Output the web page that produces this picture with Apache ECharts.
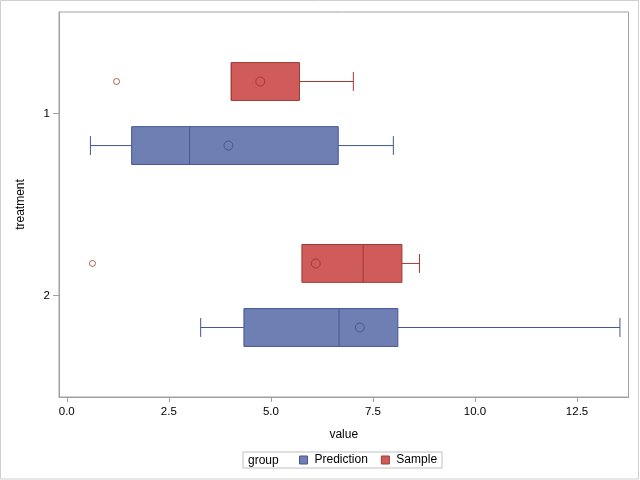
<!DOCTYPE html>
<html>
<head>
<meta charset="utf-8">
<script src="https://cdn.jsdelivr.net/npm/echarts@6/dist/echarts.min.js"></script>
<style>html,body{margin:0;padding:0;background:#fff;}#c{width:640px;height:480px;}</style>
</head>
<body>
<div id="c"></div>
<script>
// ---- data ----
var categories = [1, 2];
var xTickValues = [0, 2.5, 5, 7.5, 10, 12.5];
// [category, whiskerLow, q1, median, q3, whiskerHigh, mean]
var predictionBoxes = [
  [1, 0.58, 1.59, 3.01, 6.65, 8.00, 3.96],
  [2, 3.28, 4.34, 6.67, 8.11, 13.55, 7.18]
];
var sampleBoxes = [
  [1, 4.03, 4.03, 4.03, 5.70, 7.02, 4.74],
  [2, 5.76, 5.76, 7.26, 8.21, 8.64, 6.10]
];
// [category, value]
var sampleOutliers = [
  [1, 1.22],
  [2, 0.63]
];
var predictionOutliers = [];

// ---- styles ----
var BLUE = '#6F7EB3', BLUE_D = '#445694';
var RED = '#D05B5B', RED_D = '#A23A2E';
var FONT = 'Liberation Sans, Arial, sans-serif';
var PRED_OFF = 0.176, SAMP_OFF = -0.176, HALF = 0.104, CAP = 0.052;

function boxRenderer(offset, fill, stroke) {
  return function (params, api) {
    var c = api.value(0) + offset;
    var lo = api.value(1), q1 = api.value(2), med = api.value(3), q3 = api.value(4), hi = api.value(5), mean = api.value(6);
    var pTop = api.coord([q1, c - HALF]);
    var pBot = api.coord([q3, c + HALF]);
    var pc = function (x, y) { return api.coord([x, y]); };
    var children = [];
    var lineStyle = { stroke: stroke, lineWidth: 1 };
    var a = pc(lo, c), b = pc(q1, c);
    if (lo < q1) {
      children.push({ type: 'line', shape: { x1: a[0], y1: a[1], x2: b[0], y2: b[1] }, style: lineStyle });
      var t = pc(lo, c - CAP), u = pc(lo, c + CAP);
      children.push({ type: 'line', shape: { x1: t[0], y1: t[1], x2: u[0], y2: u[1] }, style: lineStyle });
    }
    var d = pc(q3, c), e = pc(hi, c);
    if (hi > q3) {
      children.push({ type: 'line', shape: { x1: d[0], y1: d[1], x2: e[0], y2: e[1] }, style: lineStyle });
      var t2 = pc(hi, c - CAP), u2 = pc(hi, c + CAP);
      children.push({ type: 'line', shape: { x1: t2[0], y1: t2[1], x2: u2[0], y2: u2[1] }, style: lineStyle });
    }
    children.push({
      type: 'rect',
      shape: { x: pTop[0], y: pTop[1], width: pBot[0] - pTop[0], height: pBot[1] - pTop[1] },
      style: { fill: fill, stroke: stroke, lineWidth: 1 }
    });
    var m1 = pc(med, c - HALF), m2 = pc(med, c + HALF);
    children.push({ type: 'line', shape: { x1: m1[0], y1: m1[1], x2: m2[0], y2: m2[1] }, style: lineStyle });
    var mc = pc(mean, c);
    children.push({ type: 'circle', shape: { cx: mc[0], cy: mc[1], r: 4.5 }, style: { fill: 'none', stroke: stroke, lineWidth: 1 } });
    return { type: 'group', children: children };
  };
}

function outlierData(arr, offset) {
  return arr.map(function (d) { return [d[1], d[0] + offset]; });
}

var chart = echarts.init(document.getElementById('c'), null, { renderer: 'canvas' });
chart.setOption({
  animation: false,
  backgroundColor: '#fff',
  textStyle: { fontFamily: FONT },
  grid: { left: 59, right: 11.5, top: 12, bottom: 83, show: true, borderColor: '#A0A0A0', borderWidth: 1, backgroundColor: 'transparent' },
  xAxis: {
    type: 'value', min: -0.19, max: 13.76,
    name: 'value', nameLocation: 'middle', nameGap: 32,
    nameTextStyle: { color: '#000', fontSize: 12, fontFamily: FONT },
    axisLine: { show: true, onZero: false, lineStyle: { color: '#A0A0A0' } },
    axisTick: { show: true, length: 5, lineStyle: { color: '#A0A0A0' }, customValues: xTickValues },
    axisLabel: { color: '#000', fontSize: 11.5, fontFamily: FONT, margin: 9, customValues: xTickValues,
      formatter: function (v) { return v.toFixed(1); } },
    splitLine: { show: false }
  },
  yAxis: {
    type: 'value', inverse: true, min: 0.442, max: 2.558,
    name: 'treatment', nameLocation: 'middle', nameGap: 32,
    nameTextStyle: { color: '#000', fontSize: 12, fontFamily: FONT },
    axisLine: { show: true, onZero: false, lineStyle: { color: '#A0A0A0' } },
    axisTick: { show: true, length: 6, lineStyle: { color: '#A0A0A0' }, customValues: categories },
    axisLabel: { color: '#000', fontSize: 11.5, fontFamily: FONT, margin: 9, customValues: categories,
      formatter: function (v) { return String(v); } },
    splitLine: { show: false }
  },
  legend: {
    left: 243, top: 452,
    padding: [2, 5, 2, 56],
    borderColor: '#BFBFBF', borderWidth: 1,
    itemWidth: 8, itemHeight: 8, itemGap: 13,
    textStyle: { color: '#000', fontSize: 12, fontFamily: FONT, padding: [0, 0, 0, 2] },
    data: [
      { name: 'Prediction', icon: 'rect', itemStyle: { color: BLUE, borderColor: BLUE_D, borderWidth: 1 } },
      { name: 'Sample', icon: 'rect', itemStyle: { color: RED, borderColor: RED_D, borderWidth: 1 } }
    ],
    selectedMode: false
  },
  graphic: [
    { type: 'rect', shape: { x: 0.5, y: 0.5, width: 638, height: 478.5 }, style: { fill: 'none', stroke: '#D0D0D0', lineWidth: 1 }, silent: true },
    { type: 'text', x: 248, y: 460.5, style: { text: 'group', fill: '#000', font: '12px ' + FONT, verticalAlign: 'middle', align: 'left' } }
  ],
  series: [
    { type: 'custom', name: 'Prediction', renderItem: boxRenderer(PRED_OFF, BLUE, BLUE_D), data: predictionBoxes,
      itemStyle: { color: BLUE, borderColor: BLUE_D }, encode: { x: [1, 2, 3, 4, 5, 6], y: 0 } },
    { type: 'custom', name: 'Sample', renderItem: boxRenderer(SAMP_OFF, RED, RED_D), data: sampleBoxes,
      itemStyle: { color: RED, borderColor: RED_D }, encode: { x: [1, 2, 3, 4, 5, 6], y: 0 } },
    { type: 'scatter', name: 'Sample', data: outlierData(sampleOutliers, SAMP_OFF), symbol: 'circle', symbolSize: 6,
      itemStyle: { color: '#fff', borderColor: RED_D, borderWidth: 1 } },
    { type: 'scatter', name: 'Prediction', data: outlierData(predictionOutliers, PRED_OFF), symbol: 'circle', symbolSize: 6,
      itemStyle: { color: '#fff', borderColor: BLUE_D, borderWidth: 1 } }
  ]
});
</script>
</body>
</html>
